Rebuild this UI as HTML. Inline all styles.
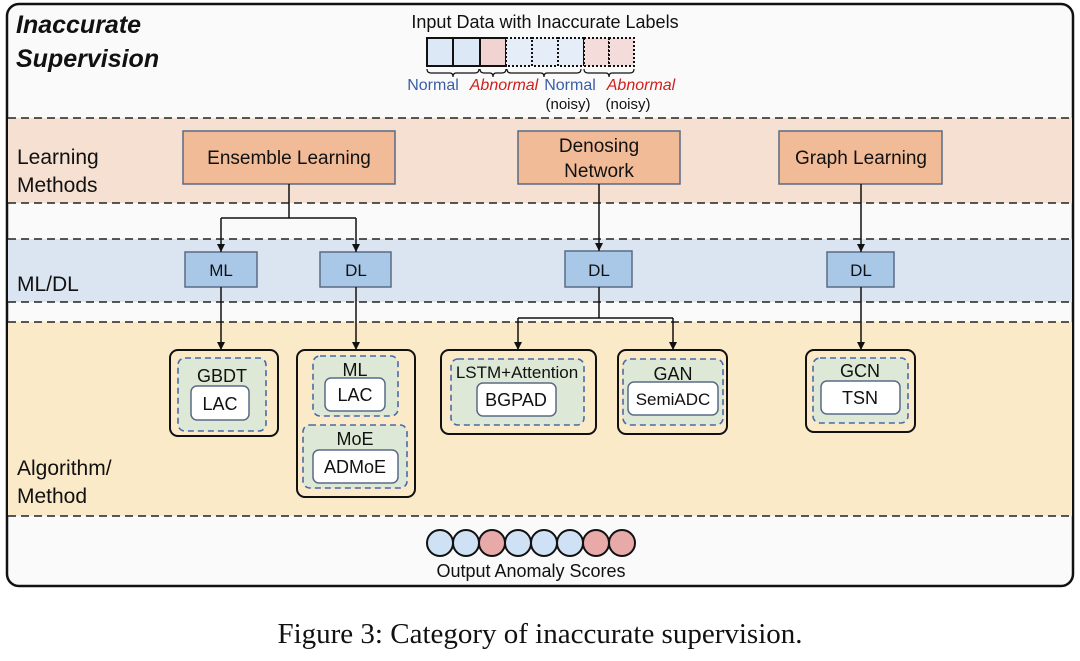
<!DOCTYPE html>
<html><head><meta charset="utf-8"><style>
html,body{margin:0;padding:0;background:#fff;width:1080px;height:661px;overflow:hidden}
svg text{font-family:"Liberation Sans",sans-serif;fill:#111}
</style></head><body>
<svg width="1080" height="661" viewBox="0 0 1080 661" xmlns="http://www.w3.org/2000/svg">
<defs><marker id="a" markerWidth="8" markerHeight="8" refX="8" refY="4" orient="auto" markerUnits="userSpaceOnUse"><path d="M0,0 L8,4 L0,8 z" fill="#111"/></marker></defs>
<rect x="7" y="4" width="1066" height="582" rx="12" fill="#fafafa" stroke="#111" stroke-width="2.5"/>
<rect x="8" y="118" width="1064" height="85" fill="#f5e0d2"/>
<rect x="8" y="239" width="1064" height="63" fill="#dbe5f1"/>
<rect x="8" y="322" width="1064" height="194" fill="#fbeac8"/>
<g stroke="#222" stroke-width="1.6" stroke-dasharray="8,5">
<line x1="8" y1="118" x2="1072" y2="118"/><line x1="8" y1="203" x2="1072" y2="203"/>
<line x1="8" y1="239" x2="1072" y2="239"/><line x1="8" y1="302" x2="1072" y2="302"/>
<line x1="8" y1="322" x2="1072" y2="322"/><line x1="8" y1="516" x2="1072" y2="516"/>
</g>
<text x="16" y="33" font-size="25" font-weight="bold" font-style="italic">Inaccurate</text>
<text x="16" y="67" font-size="25" font-weight="bold" font-style="italic">Supervision</text>
<text x="17" y="164" font-size="21">Learning</text><text x="17" y="192" font-size="21">Methods</text>
<text x="17" y="291" font-size="21">ML/DL</text>
<text x="17" y="475" font-size="21">Algorithm/</text><text x="17" y="503" font-size="21">Method</text>
<text x="545" y="28" font-size="18" text-anchor="middle">Input Data with Inaccurate Labels</text>
<g stroke="#111" stroke-width="2">
<rect x="427" y="38" width="26" height="28" fill="#dce8f5"/><rect x="453" y="38" width="27" height="28" fill="#dce8f5"/><rect x="480" y="38" width="26" height="28" fill="#f1d4d2"/>
</g>
<g stroke="#111" stroke-width="2" stroke-dasharray="2,2">
<rect x="506" y="38" width="26" height="28" fill="#e4edf8"/><rect x="532" y="38" width="26" height="28" fill="#e4edf8"/><rect x="558" y="38" width="26" height="28" fill="#e4edf8"/><rect x="584" y="38" width="25" height="28" fill="#f3dcda"/><rect x="609" y="38" width="25" height="28" fill="#f3dcda"/>
</g>
<path d="M427,69 q0,4 4,4 h19 q3,0 3,4 q0,-4 3,-4 h19 q4,0 4,-4 M480,69 q0,4 4,4 h6 q3,0 3,4 q0,-4 3,-4 h6 q4,0 4,-4 M507,69 q0,4 4,4 h30 q3,0 3,4 q0,-4 3,-4 h30 q4,0 4,-4 M584,69 q0,4 4,4 h18 q3,0 3,4 q0,-4 3,-4 h18 q4,0 4,-4" fill="none" stroke="#111" stroke-width="1.2"/>
<text x="433" y="90" font-size="16" text-anchor="middle" style="fill:#3a5ea8">Normal</text>
<text x="504" y="90" font-size="16" font-style="italic" text-anchor="middle" style="fill:#d0201b">Abnormal</text>
<text x="570" y="90" font-size="16" text-anchor="middle" style="fill:#3a5ea8">Normal</text>
<text x="641" y="90" font-size="16" font-style="italic" text-anchor="middle" style="fill:#d0201b">Abnormal</text>
<text x="568" y="109" font-size="15" text-anchor="middle">(noisy)</text>
<text x="628" y="109" font-size="15" text-anchor="middle">(noisy)</text>
<g fill="#f2bb98" stroke="#5a6a85" stroke-width="1.5">
<rect x="183" y="131" width="212" height="53"/><rect x="518" y="131" width="162" height="53"/><rect x="779" y="131" width="163" height="53"/>
</g>
<text x="289" y="164" font-size="19" text-anchor="middle">Ensemble Learning</text>
<text x="599" y="152" font-size="19" text-anchor="middle">Denosing</text>
<text x="599" y="177" font-size="19" text-anchor="middle">Network</text>
<text x="861" y="164" font-size="19" text-anchor="middle">Graph Learning</text>
<g fill="#a9c8e8" stroke="#5a6a85" stroke-width="1.5">
<rect x="185" y="252" width="72" height="35"/><rect x="320" y="252" width="71" height="35"/><rect x="565" y="251" width="67" height="36"/><rect x="827" y="252" width="67" height="35"/>
</g>
<g font-size="17" text-anchor="middle"><text x="221" y="276">ML</text><text x="356" y="276">DL</text><text x="599" y="276">DL</text><text x="861" y="276">DL</text></g>
<g stroke="#111" stroke-width="1.5" fill="none">
<path d="M289,184 V218 M221,218 H356"/><path d="M221,218 V252" marker-end="url(#a)"/><path d="M356,218 V252" marker-end="url(#a)"/>
<path d="M599,184 V251" marker-end="url(#a)"/><path d="M861,184 V252" marker-end="url(#a)"/>
<path d="M221,287 V350" marker-end="url(#a)"/><path d="M356,287 V350" marker-end="url(#a)"/>
<path d="M599,287 V318 M518,318 H673"/><path d="M518,318 V350" marker-end="url(#a)"/><path d="M673,318 V350" marker-end="url(#a)"/>
<path d="M861,287 V350" marker-end="url(#a)"/>
</g>
<g fill="#fbeac8" stroke="#111" stroke-width="2">
<rect x="170" y="350" width="108" height="86" rx="8"/><rect x="297" y="350" width="118" height="147" rx="8"/>
<rect x="441" y="350" width="155" height="84" rx="8"/><rect x="618" y="350" width="109" height="84" rx="8"/><rect x="806" y="350" width="109" height="82" rx="8"/>
</g>
<g fill="#dde9d6" stroke="#4a6aa8" stroke-width="1.6" stroke-dasharray="6,4">
<rect x="178" y="358" width="88" height="73" rx="7"/><rect x="313" y="356" width="85" height="60" rx="7"/><rect x="303" y="425" width="104" height="63" rx="7"/>
<rect x="451" y="359" width="133" height="66" rx="7"/><rect x="623" y="359" width="100" height="66" rx="7"/><rect x="813" y="358" width="95" height="65" rx="7"/>
</g>
<g fill="#fff" stroke="#5a6a85" stroke-width="1.5">
<rect x="191" y="386" width="58" height="34" rx="6"/><rect x="325" y="378" width="60" height="33" rx="6"/><rect x="313" y="450" width="85" height="33" rx="6"/>
<rect x="477" y="383" width="79" height="33" rx="6"/><rect x="628" y="382" width="90" height="33" rx="6"/><rect x="821" y="381" width="79" height="33" rx="6"/>
</g>
<g font-size="18" text-anchor="middle">
<text x="222" y="382">GBDT</text><text x="220" y="410">LAC</text>
<text x="355" y="376">ML</text><text x="355" y="401">LAC</text>
<text x="355" y="445">MoE</text><text x="355" y="473">ADMoE</text>
<text x="517" y="378" font-size="17">LSTM+Attention</text><text x="516" y="406">BGPAD</text>
<text x="673" y="380">GAN</text><text x="673" y="405" font-size="17">SemiADC</text>
<text x="860" y="377">GCN</text><text x="860" y="404">TSN</text>
</g>
<g stroke="#111" stroke-width="2">
<circle cx="440" cy="543" r="13" fill="#cfe2f5"/><circle cx="466" cy="543" r="13" fill="#cfe2f5"/><circle cx="492" cy="543" r="13" fill="#e8aaa8"/><circle cx="518" cy="543" r="13" fill="#cfe2f5"/><circle cx="544" cy="543" r="13" fill="#cfe2f5"/><circle cx="570" cy="543" r="13" fill="#cfe2f5"/><circle cx="596" cy="543" r="13" fill="#e8aaa8"/><circle cx="622" cy="543" r="13" fill="#e8aaa8"/>
</g>
<text x="531" y="577" font-size="18" text-anchor="middle">Output Anomaly Scores</text>
<text x="540" y="643" font-size="29" text-anchor="middle" style="font-family:'Liberation Serif',serif">Figure 3: Category of inaccurate supervision.</text>
</svg>
</body></html>
